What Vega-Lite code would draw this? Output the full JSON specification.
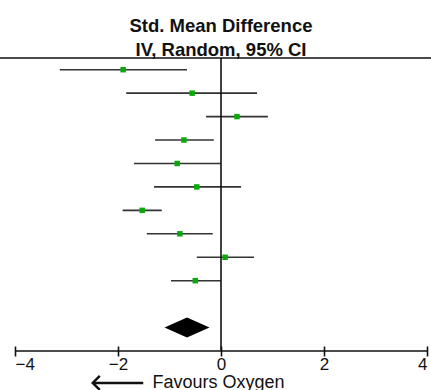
{
  "$schema": "https://vega.github.io/schema/vega-lite/v6.json",
  "width": 412,
  "height": 293,
  "autosize": "none",
  "padding": {"left": 15, "top": 58, "right": 4, "bottom": 39},
  "background": "white",
  "data": {"values": [{}]},
  "title": {
    "text": ["Std. Mean Difference", "IV, Random, 95% CI"],
    "font": "Liberation Sans",
    "fontSize": 18.5,
    "fontWeight": "bold",
    "color": "#111111",
    "lineHeight": 24,
    "anchor": "middle",
    "baseline": "bottom",
    "offset": 4,
    "dy": 25
  },
  "config": {
    "view": {"stroke": null},
    "axisX": {
      "domain": false,
      "offset": -5,
      "tickCount": 5,
      "tickSize": 10,
      "tickWidth": 1.6,
      "tickColor": "#111111",
      "labelFont": "Liberation Sans",
      "labelFontSize": 17,
      "labelColor": "#111111",
      "labelPadding": 0,
      "labelFlush": true,
      "grid": false,
      "titleFont": "Liberation Sans",
      "titleFontSize": 18,
      "titleFontWeight": "normal",
      "titleColor": "#111111",
      "titleAlign": "left",
      "titleBaseline": "alphabetic",
      "titleAnchor": null,
      "titleX": 137,
      "titleY": 41
    }
  },
  "datasets": {
    "studies": [
      {"row": 1, "est": -1.90, "lo": -3.13, "hi": -0.66},
      {"row": 2, "est": -0.56, "lo": -1.84, "hi": 0.70},
      {"row": 3, "est": 0.31, "lo": -0.29, "hi": 0.91},
      {"row": 4, "est": -0.72, "lo": -1.28, "hi": -0.14},
      {"row": 5, "est": -0.85, "lo": -1.69, "hi": 0.00},
      {"row": 6, "est": -0.47, "lo": -1.30, "hi": 0.39},
      {"row": 7, "est": -1.53, "lo": -1.91, "hi": -1.15},
      {"row": 8, "est": -0.80, "lo": -1.44, "hi": -0.16},
      {"row": 9, "est": 0.08, "lo": -0.47, "hi": 0.64},
      {"row": 10, "est": -0.50, "lo": -0.97, "hi": 0.00}
    ],
    "pooled": [
      {"row": 12, "est": -0.66, "lo": -1.09, "hi": -0.23}
    ]
  },
  "layer": [
    {
      "data": {"name": "studies"},
      "mark": {"type": "rule", "color": "#333333", "strokeWidth": 1.6},
      "encoding": {
        "x": {
          "field": "lo",
          "type": "quantitative",
          "title": "Favours Oxygen",
          "scale": {"domain": [-4, 4], "nice": false, "zero": false}
        },
        "x2": {"field": "hi"},
        "y": {
          "field": "row",
          "type": "quantitative",
          "scale": {"domain": [0.5, 13], "reverse": true, "nice": false, "zero": false},
          "axis": null
        }
      }
    },
    {
      "mark": {"type": "rule", "color": "#111111", "strokeWidth": 1.6},
      "encoding": {
        "x": {"datum": 0, "type": "quantitative", "title": "Favours Oxygen"}
      }
    },
    {
      "mark": {"type": "rule", "color": "#111111", "strokeWidth": 1.6, "clip": false},
      "encoding": {
        "x": {"datum": -4.3, "type": "quantitative", "title": "Favours Oxygen"},
        "x2": {"datum": 4.1},
        "y": {"datum": 0.5, "type": "quantitative", "axis": null}
      }
    },
    {
      "mark": {"type": "rule", "color": "#111111", "strokeWidth": 1.6},
      "encoding": {
        "y": {"datum": 13, "type": "quantitative", "axis": null}
      }
    },
    {
      "data": {"name": "studies"},
      "mark": {"type": "point", "shape": "square", "filled": true, "opacity": 1, "color": "#0aa80a", "size": 30},
      "encoding": {
        "x": {"field": "est", "type": "quantitative", "title": "Favours Oxygen"},
        "y": {"field": "row", "type": "quantitative", "axis": null}
      }
    },
    {
      "data": {"name": "pooled"},
      "mark": {"type": "point", "shape": "M-1,0L0,-0.444L1,0L0,0.444Z", "filled": true, "opacity": 1, "color": "#000000", "size": 2025},
      "encoding": {
        "x": {"field": "est", "type": "quantitative", "title": "Favours Oxygen"},
        "y": {"field": "row", "type": "quantitative", "axis": null}
      }
    },
    {
      "mark": {"type": "rule", "color": "#111111", "strokeWidth": 2.5, "clip": false},
      "encoding": {
        "x": {"datum": -2.47, "type": "quantitative", "title": "Favours Oxygen"},
        "x2": {"datum": -1.51},
        "y": {"datum": 14.36, "type": "quantitative", "axis": null}
      }
    },
    {
      "mark": {"type": "point", "shape": "M1,-1L0,0L1,1", "filled": false, "opacity": 1, "color": "#111111", "strokeWidth": 2.5, "size": 196, "clip": false},
      "encoding": {
        "x": {"datum": -2.49, "type": "quantitative", "title": "Favours Oxygen"},
        "y": {"datum": 14.36, "type": "quantitative", "axis": null}
      }
    }
  ]
}
